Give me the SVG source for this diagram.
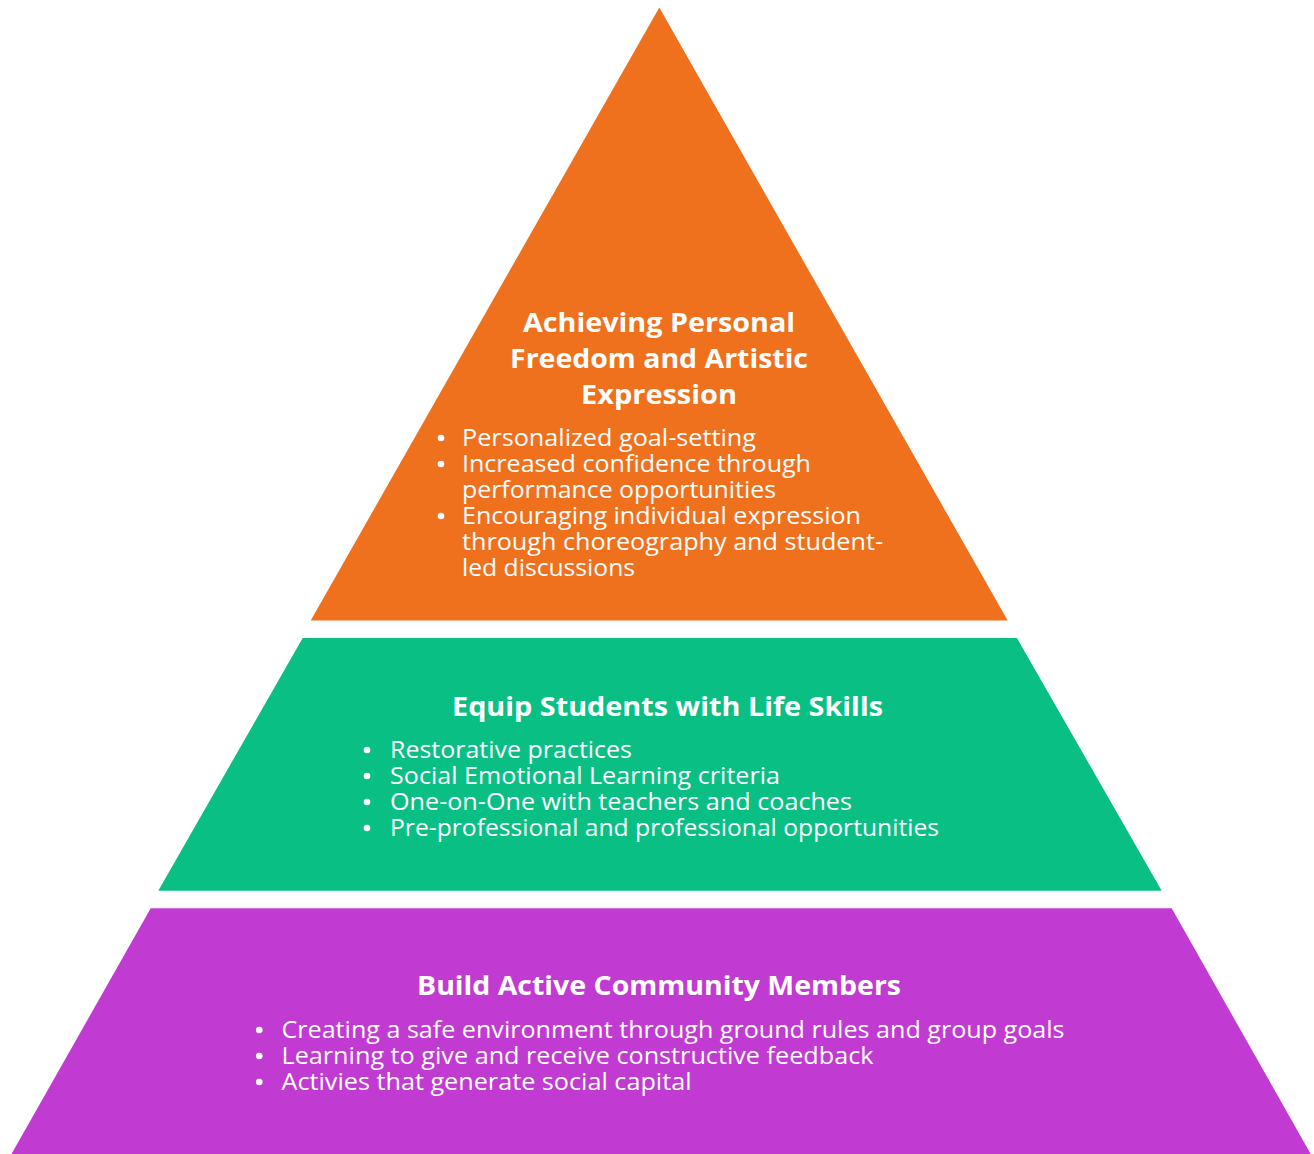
<svg xmlns="http://www.w3.org/2000/svg" width="1314" height="1154" viewBox="0 0 1314 1154">
  <style>
    .title { font-family: "Open Sans", "Liberation Sans", sans-serif; font-weight: 700; font-size: 27px; fill: #ffffff; }
    .item { font-family: "Open Sans", "Liberation Sans", sans-serif; font-weight: 400; font-size: 23px; fill: #ffffff; }
    .dot { fill: #ffffff; }
  </style>
  <rect width="1314" height="1154" fill="#ffffff"/>

  <!-- Top tier: personal freedom -->
  <g id="tier-top">
    <polygon points="659.3,7.5 1007.7,620.5 310.7,620.5" fill="#EF711E"/>
    <text class="title" x="659" y="332" text-anchor="middle" textLength="272" lengthAdjust="spacingAndGlyphs">Achieving Personal</text>
    <text class="title" x="659" y="368" text-anchor="middle" textLength="298" lengthAdjust="spacingAndGlyphs">Freedom and Artistic</text>
    <text class="title" x="659" y="404" text-anchor="middle" textLength="156" lengthAdjust="spacingAndGlyphs">Expression</text>
    <circle class="dot" cx="441" cy="438" r="3.3"/>
    <circle class="dot" cx="441" cy="464" r="3.3"/>
    <circle class="dot" cx="441" cy="516" r="3.3"/>
    <text class="item" x="462" y="446" textLength="294" lengthAdjust="spacingAndGlyphs">Personalized goal-setting</text>
    <text class="item" x="462" y="472" textLength="349" lengthAdjust="spacingAndGlyphs">Increased confidence through</text>
    <text class="item" x="462" y="498" textLength="314" lengthAdjust="spacingAndGlyphs">performance opportunities</text>
    <text class="item" x="462" y="524" textLength="399" lengthAdjust="spacingAndGlyphs">Encouraging individual expression</text>
    <text class="item" x="462" y="550" textLength="421" lengthAdjust="spacingAndGlyphs">through choreography and student-</text>
    <text class="item" x="462" y="576" textLength="173" lengthAdjust="spacingAndGlyphs">led discussions</text>
  </g>

  <!-- Middle tier: life skills -->
  <g id="tier-middle">
    <polygon points="302.7,638 1016.9,638 1161.7,890.7 158.3,890.7" fill="#09BF84"/>
    <text class="title" x="452" y="716" textLength="431" lengthAdjust="spacingAndGlyphs">Equip Students with Life Skills</text>
    <circle class="dot" cx="367" cy="750" r="3.3"/>
    <circle class="dot" cx="367" cy="776" r="3.3"/>
    <circle class="dot" cx="367" cy="802" r="3.3"/>
    <circle class="dot" cx="367" cy="828" r="3.3"/>
    <text class="item" x="390" y="758" textLength="242" lengthAdjust="spacingAndGlyphs">Restorative practices</text>
    <text class="item" x="390" y="784" textLength="390" lengthAdjust="spacingAndGlyphs">Social Emotional Learning criteria</text>
    <text class="item" x="390" y="810" textLength="462" lengthAdjust="spacingAndGlyphs">One-on-One with teachers and coaches</text>
    <text class="item" x="390" y="836" textLength="549" lengthAdjust="spacingAndGlyphs">Pre-professional and professional opportunities</text>
  </g>

  <!-- Base tier: community -->
  <g id="tier-base">
    <polygon points="150.7,908.3 1171.7,908.3 1310.7,1154 11.5,1154" fill="#C13BD2"/>
    <text class="title" x="417" y="995" textLength="484" lengthAdjust="spacingAndGlyphs">Build Active Community Members</text>
    <circle class="dot" cx="259.3" cy="1030" r="3.3"/>
    <circle class="dot" cx="259.3" cy="1056" r="3.3"/>
    <circle class="dot" cx="259.3" cy="1082" r="3.3"/>
    <text class="item" x="281.5" y="1038" textLength="783" lengthAdjust="spacingAndGlyphs">Creating a safe environment through ground rules and group goals</text>
    <text class="item" x="281.5" y="1064" textLength="592" lengthAdjust="spacingAndGlyphs">Learning to give and receive constructive feedback</text>
    <text class="item" x="281.5" y="1090" textLength="410" lengthAdjust="spacingAndGlyphs">Activies that generate social capital</text>
  </g>

  <!-- no connectors in this pyramid -->
  <g id="connectors"/>
</svg>
